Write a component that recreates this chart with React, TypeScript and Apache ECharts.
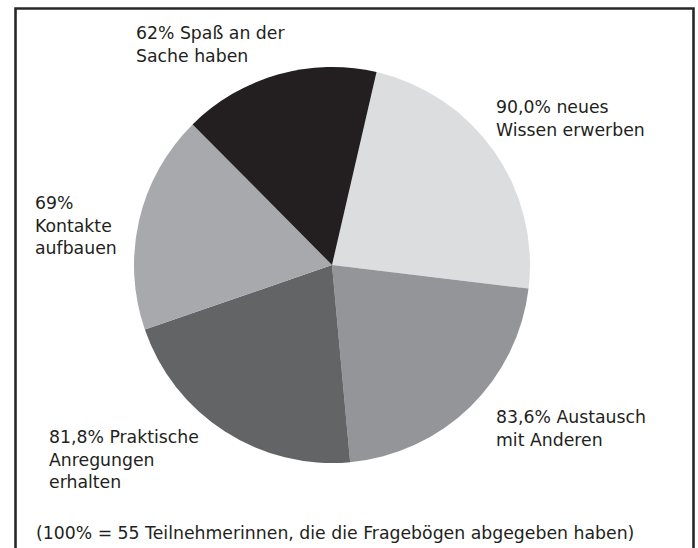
import React, { useEffect, useRef } from "react";
import * as echarts from "echarts";

const categories = [
  "neues Wissen erwerben",
  "Austausch mit Anderen",
  "Praktische Anregungen erhalten",
  "Kontakte aufbauen",
  "Spaß an der Sache haben",
];
const values = [90.0, 83.6, 81.8, 69, 62];
const labelTexts = [
  "90,0% neues\nWissen erwerben",
  "83,6% Austausch\nmit Anderen",
  "81,8% Praktische\nAnregungen\nerhalten",
  "69%\nKontakte\naufbauen",
  "62% Spaß an der\nSache haben",
];
const footnote = "(100% = 55 Teilnehmerinnen, die die Fragebögen abgegeben haben)";

const sliceColors = ["#dcdddf", "#939598", "#636466", "#a7a9ac", "#231f20"];
const labelAnchors = [
  [496, 96],
  [496, 406],
  [49, 426],
  [35, 192],
  [136, 22],
];

const FONT = "'DejaVu Sans', sans-serif";

export default function App() {
  const ref = useRef<HTMLDivElement>(null);
  useEffect(() => {
    if (!ref.current) return;
    const chart = echarts.init(ref.current, undefined, { renderer: "svg" });
    chart.setOption({
      animation: false,
      backgroundColor: "#ffffff",
      graphic: [
        {
          type: "rect",
          shape: { x: 15.5, y: 8.5, width: 678, height: 560 },
          style: { fill: "none", stroke: "#2a2728", lineWidth: 2.6 },
          silent: true,
        },
        {
          type: "text",
          x: 36,
          y: 533,
          style: {
            text: footnote,
            font: `17.3px ${FONT}`,
            fill: "#231f20",
            verticalAlign: "middle",
            align: "left",
          },
        },
      ],
      series: [
        {
          type: "pie",
          center: [332, 265],
          radius: 198,
          startAngle: 77,
          clockwise: true,
          avoidLabelOverlap: false,
          labelLine: { show: false },
          itemStyle: { borderWidth: 0 },
          emphasis: { disabled: true },
          label: {
            show: true,
            position: "outside",
            fontFamily: FONT,
            fontSize: 17.3,
            lineHeight: 22.5,
            color: "#231f20",
            formatter: (p: any) => labelTexts[p.dataIndex],
          },
          labelLayout: (p: any) => ({
            x: labelAnchors[p.dataIndex][0],
            y: labelAnchors[p.dataIndex][1],
            align: "left",
            verticalAlign: "top",
          }),
          data: categories.map((name, i) => ({
            name,
            value: values[i],
            itemStyle: { color: sliceColors[i] },
          })),
        },
      ],
    });
    return () => chart.dispose();
  }, []);
  return (
    <div
      ref={ref}
      style={{ position: "absolute", left: 0, top: 0, width: 698, height: 548 }}
    />
  );
}
